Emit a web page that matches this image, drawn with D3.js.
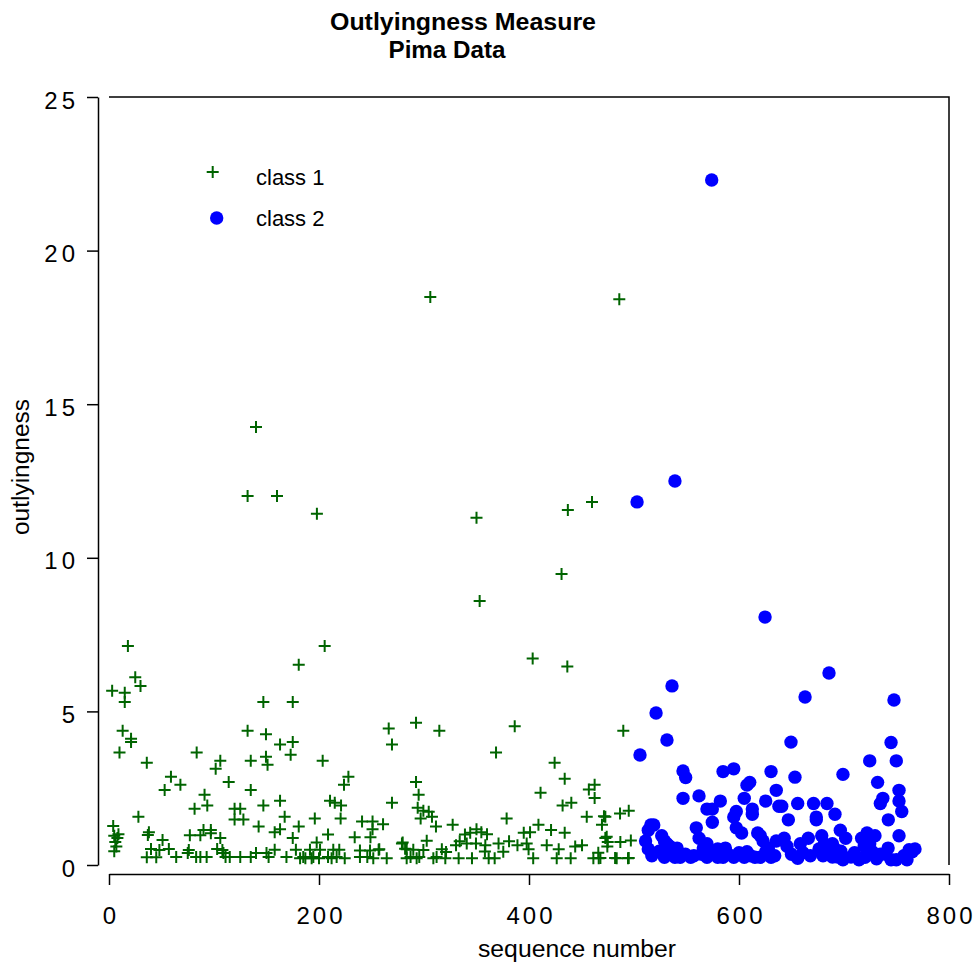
<!DOCTYPE html>
<html><head><meta charset="utf-8">
<script src="https://cdn.jsdelivr.net/npm/d3@7"></script>
<style>body{margin:0;background:#fff}svg{display:block}text{font-family:"Liberation Sans",Arial,sans-serif;fill:#000}</style>
</head><body>
<svg id="chart" width="980" height="966"></svg>
<script>
const titleLines = ["Outlyingness Measure", "Pima Data"];
const xLabel = "sequence number";
const yLabel = "outlyingness";
const xTicks = [0, 200, 400, 600, 800];
const yTicks = [0, 5, 10, 15, 20, 25];
const legendLabels = ["class 1", "class 2"];

// class 1: [sequence number, outlyingness]
const class1 = [
[3,5.67],[4,1.27],[5,0.95],[6,0.75],[7,0.6],[8,0.88],[5,0.45],[9,1.0],[10,3.66],[13,4.37],[15,5.61],[15,5.31],[18,7.13],[21,4.11],[21,4.0],[25,6.11],[30,5.83],[28,1.57],
[36,3.33],[38,1.07],[37,0.98],[40,0.52],[36,0.25],[45,0.25],[48,0.49],[51,0.81],[53,2.44],[57,0.52],[59,2.87],[64,0.26],[68,2.61],
[75,0.39],[76,0.49],[77,0.97],[81.5,1.83],[83,0.26],[83.5,3.66],[87,0.97],[87,0.26],[90,1.14],[91,2.29],[93.6,1.94],[93,0.26],[97,1.14],[97,1.03],[101.6,3.13],[103,0.52],[106,3.39],[106,0.88],[108,0.49],[109,0.39],[111,0.26],[114,2.70],[115,0.26],[119.6,1.83],[125,1.83],[119.6,1.48],[128,1.48],[125,0.26],[132,4.37],[132,12.01],[135,3.39],[135,2.44],[135,0.26],[140,14.26],[140,0.39],[142.5,1.25],[147,5.31],[147,1.94],[149.5,4.26],[149.5,3.52],[151,3.26],[150,0.39],
[152,0.26],[157.8,1.07],[157.8,0.5],[160,12.01],[162.9,3.92],[162.9,2.09],[162.9,1.16],[167.3,1.57],[169,0.26],[173,3.59],[175,5.31],[175,4.0],[175,0.88],[178,0.5],[180.7,6.52],[180.7,1.25],[182,0.22],[185,0.26],[187,0.22],[191.4,0.5],[193,0.22],[194.6,0.26],[196,1.51],[197.8,0.73],[198,11.43],[200,0.22],[201,0.5],[203.5,3.39],[205.4,7.13],[208.6,0.99],[208.6,0.26],[210.5,2.09],[212,0.22],[213.6,0.5],[215,2.03],[216.8,0.26],[219.3,0.5],[220.6,1.51],[221,1.94],[223.8,2.61],[224.5,0.22],[228,2.87],
[234,0.9],[239,0.47],[239,0.26],[241,1.42],[246,0.26],[248.6,0.47],[249,0.9],[251,1.42],[251,1.16],[251.7,0.22],[256.8,0.5],[257.4,0.51],[261,1.33],[264.5,0.22],[266.4,4.44],[269.5,3.92],[269.5,2.03],[279,0.7],[279.7,0.73],[282,0.53],[283.5,0.51],[283.5,0.22],[287.2,0.26],[289.8,0.5],[292.4,4.63],[292.4,2.70],[293,0.22],[294,1.86],[294.9,2.29],[295.5,0.26],[296.8,1.51],[299.4,1.77],[299.4,0.49],[302.6,0.79],[304.5,1.73],[306,18.49],[307.6,1.57],[308.9,0.22],
[311.4,1.25],[312,0.26],[314.6,4.37],[317,0.51],[320.3,0.22],[321,0.42],[327.3,1.31],[330.5,0.64],[333,0.22],[334,0.77],[339,0.99],[340.7,0.7],[344,1.05],[345.7,0.22],[349.5,0.7],[350,1.16],[350,11.30],[353,8.59],[354.6,1.07],[358,0.44],[358.4,0.64],[360,1.0],[361.6,0.22],[367.3,0.22],[368.6,3.66],[371,0.7],[375.5,0.43],[378.7,1.51],[381,0.77],[386.4,4.52],[389,0.64],[395,1.05],[397.8,0.7],[399.6,0.51],
[401,1.07],[403.5,6.72],[404,0.22],[409,1.31],[411,2.35],[416.9,0.64],[421,1.14],[424.4,3.33],[426.4,0.22],[428.3,0.51],[431,9.47],[432,1.94],[434,1.05],[434,2.81],[437,11.56],[436.5,6.46],[439.7,0.22],[440.3,2.03],[444,0.6],[450.5,0.64],[455,1.57],[457,2.46],[460,11.82],[461.3,0.22],[462.5,2.61],[462.5,2.18],[466.4,0.22],[466,0.4],[468,0.23],[469.5,1.31],[471.4,1.59],[472.7,0.88],[472.7,1.57],[474,0.92],[474.6,0.6],[475,0.75],[482,0.23],[483.5,0.22],[486,18.42],[486.7,1.68],[487,0.75],[489.8,4.37],[494.3,0.22],[495,1.77],[495,0.23],[497,0.8]
];

// class 2: [sequence number, outlyingness]
const class2 = [
[502.9,11.82],[505.7,3.58],[511,0.78],[513.6,1.13],[513.6,0.52],[516,1.3],[518.8,1.3],[521,4.95],[526.4,0.95],[529,0.78],[529,0.25],[531.4,4.07],[531.4,0.69],[534,0.61],[536.2,5.83],[536.5,0.52],[539,12.5],[539,0.25],[544,0.25],[546.7,3.06],[546.7,2.17],[549.2,2.85],[549,0.35],[554,0.25],[559.3,1.21],[561.9,2.25],[562,0.87],[564.5,0.35],[569.5,1.82],[569.5,0.69],[569.5,0.25],[574,22.3],[574.6,1.82],[574.6,1.39],[579.7,0.52],[579.7,0.25],[582.2,2.08],[584.8,3.04],[584.8,0.25],[589.8,0.35],[595,3.13],[595,1.56],[595,0.25],[597.4,1.74],[597.4,1.21],[602.5,1.04],[605,2.17],[605,0.25],[607.6,2.6],[607.6,0.43],[610.2,2.69],[612.7,1.82],[612.7,1.65],[615.2,0.25],[617.8,1.04],[620.3,0.95],[620.3,0.25],[622.9,0.78],[624.8,8.07],[625.4,2.08],[625.4,0.43],[630.5,3.04],[630.5,0.25],[635.5,2.43],[635.5,0.78],[638,1.91],[640.7,1.91],[643,0.87],[645.7,0.61],[647,1.47],[649.5,4.0],[653.3,2.86],[655.9,2.0],[655.9,0.22],[658.4,0.69],[662.9,5.47],[666,0.87],[671,2.0],[673.6,1.56],[673.6,1.47],[676.2,0.52],[678.8,0.95],[681.2,0.69],[683.8,2.0],[685.7,6.25],[686.3,0.52],[689,0.69],[689,0.26],[691.4,1.65],[691.4,0.52],[694,0.26],[696.5,1.13],[699,2.95],[699,0.17],[701.6,0.87],[706.7,0.26],[714.3,0.17],[716.8,0.87],[719.3,0.61],[721.9,1.04],[724.5,3.39],[724.5,0.69],[727,0.43],[729.5,0.95],[732,2.69],[734.6,2.0],[734.6,0.35],[737,2.17],[739.7,0.35],[742.2,1.47],[744.8,3.99],[744.8,0.17],[747.6,5.37],[749.8,3.39],[749.8,0.17],[752.4,2.43],[752.4,2.08],[752.4,0.95],[755,1.74],[760,0.17],[765,0.43],[767.6,0.52],
[517,0.3],[524,0.45],[541,0.55],[557,0.3],[566,0.55],[576,0.4],[587,0.55],[600,0.4],[611,0.3],[628,0.55],[634,0.3],[650,0.35],[661,0.4],[668,0.3],[680,0.3],[697,0.45],[710,0.4],[720,0.25],[731,0.2],[742,0.55],[757,0.3],[762,0.5]
];

const green = "#006400", blue = "#0000ff";
const svg = d3.select("#chart");
const x = d3.scaleLinear().domain([0, 800]).range([109, 949]);
const y = d3.scaleLinear().domain([0, 25]).range([865, 97]);

// titles
svg.append("text").attr("x", 463).attr("y", 30).attr("text-anchor", "middle")
  .attr("font-size", 23).attr("font-weight", "bold")
  .attr("textLength", 266).attr("lengthAdjust", "spacingAndGlyphs").text(titleLines[0]);
svg.append("text").attr("x", 447).attr("y", 58).attr("text-anchor", "middle")
  .attr("font-size", 23).attr("font-weight", "bold")
  .attr("textLength", 117).attr("lengthAdjust", "spacingAndGlyphs").text(titleLines[1]);

// plot frame (top & right)
svg.append("path").attr("d", `M${x(0)},${y(25)}H${x(800)}V${y(0)}`)
  .attr("fill", "none").attr("stroke", "#000").attr("stroke-width", 1.5);

// x axis
const xa = svg.append("g").attr("transform", "translate(0,874)")
  .call(d3.axisBottom(x).tickValues(xTicks).tickSize(11).tickSizeOuter(0).tickFormat(d3.format("d")));
xa.select(".domain").attr("stroke-width", 1.5);
xa.selectAll(".tick line").attr("stroke-width", 1.5);
xa.selectAll(".tick text").attr("font-size", 24).attr("font-family", "Liberation Sans, Arial, sans-serif")
  .attr("y", 50).attr("dy", 0).style("letter-spacing", "3px").attr("dx", 1.5).attr("fill", "#000");

// y axis
const ya = svg.append("g").attr("transform", "translate(98,0)")
  .call(d3.axisLeft(y).tickValues(yTicks).tickSize(11).tickSizeOuter(0).tickFormat(d3.format("d")));
ya.select(".domain").attr("stroke-width", 1.5);
ya.selectAll(".tick line").attr("stroke-width", 1.5);
ya.selectAll(".tick text").attr("font-size", 24).attr("font-family", "Liberation Sans, Arial, sans-serif")
  .attr("x", -19).attr("dy", 0).attr("y", 11).style("letter-spacing", "4px").attr("fill", "#000");

// axis titles
svg.append("text").attr("x", 577).attr("y", 957).attr("text-anchor", "middle")
  .attr("font-size", 23).attr("textLength", 198).attr("lengthAdjust", "spacingAndGlyphs").text(xLabel);
svg.append("text").attr("transform", "translate(29,467) rotate(-90)").attr("text-anchor", "middle")
  .attr("font-size", 23).attr("textLength", 136).attr("lengthAdjust", "spacingAndGlyphs").text(yLabel);

// points
const cross = "M-6,0H6M0,-6V6";
svg.append("g").selectAll("path").data(class1).join("path")
  .attr("transform", d => `translate(${x(d[0])},${y(d[1])})`)
  .attr("d", cross).attr("stroke", green).attr("stroke-width", 2).attr("fill", "none");
svg.append("g").selectAll("circle").data(class2).join("circle")
  .attr("cx", d => x(d[0])).attr("cy", d => y(d[1])).attr("r", 6.7).attr("fill", blue);

// legend
const lg = svg.append("g");
lg.append("path").attr("transform", "translate(212.7,172)").attr("d", cross)
  .attr("stroke", green).attr("stroke-width", 2);
lg.append("circle").attr("cx", 216.7).attr("cy", 218).attr("r", 6.7).attr("fill", blue);
lg.append("text").attr("x", 256).attr("y", 185).attr("font-size", 22).text(legendLabels[0]);
lg.append("text").attr("x", 256).attr("y", 226).attr("font-size", 22).text(legendLabels[1]);
</script>
</body></html>
